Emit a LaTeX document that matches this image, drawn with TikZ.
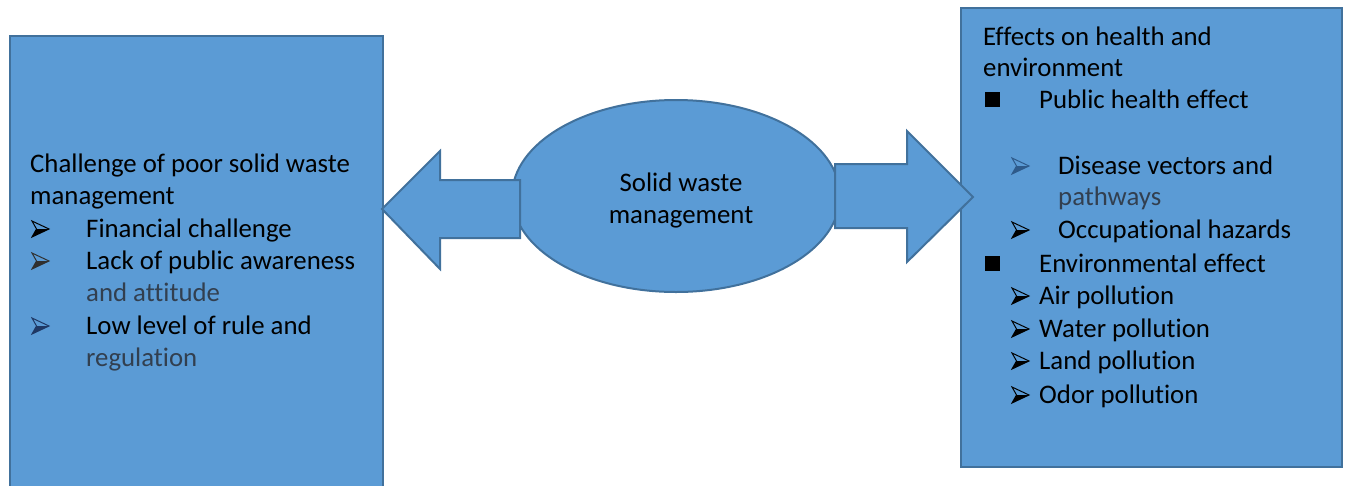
\documentclass[tikz,border=0pt]{standalone}
\usepackage{fontspec}
\setmainfont{Carlito}[Ligatures={NoCommon,NoContextual}]
\usetikzlibrary{shapes.geometric}
\definecolor{boxfill}{HTML}{5B9BD5}
\definecolor{boxline}{HTML}{41719C}
\definecolor{subtext}{HTML}{323F4F}
\definecolor{navyb}{HTML}{1F3864}
\definecolor{steelb}{HTML}{2E5A8A}
\definecolor{grayb}{HTML}{303030}
\newcommand\arrbul[3]{% x, baseline y, colour
  \fill[#3] (#1+4.5,#2-8) -- (#1+17,#2-8) -- (#1,#2) -- cycle;
  \draw[#3, line width=1pt, line join=miter] (#1,#2-16) -- (#1+17,#2-8) -- (#1,#2) -- (#1+4.5,#2-8) -- cycle;}
\begin{document}
\begin{tikzpicture}[x=1pt,y=-1pt,
  panel/.style={draw=boxline, fill=boxfill, line width=2pt, inner sep=0pt, outer sep=0pt},
  txt/.style={anchor=base west, inner sep=0pt, font=\fontsize{26.8}{32}\selectfont},
  sq/.style={fill=black, minimum size=15pt, inner sep=0pt, anchor=south west}]
\clip (0,0) rectangle (1348,485);
% boxes
\node[panel, rectangle, minimum width=373pt, minimum height=470pt, anchor=north west] (lbox) at (10,36) {};
\node[panel, rectangle, minimum width=381pt, minimum height=459pt, anchor=north west] (rbox) at (961,8) {};
% ellipse
\node[panel, ellipse, minimum width=328pt, minimum height=192pt] (ell) at (676,196) {};
% block arrows
\coordinate (ltip) at (382,209);
\coordinate (rtip) at (973,197);
\draw[panel, line join=miter] (ltip) -- (440,151) -- (440,180) -- (520,180) -- (520,238) -- (440,238) -- (440,269) -- cycle;
\draw[panel, line join=miter] (rtip) -- (907,262) -- (907,228) -- (835,228) -- (835,164) -- (907,164) -- (907,131) -- cycle;
% centre text
\node[txt, anchor=base] (c1) at (681,191) {Solid waste};
\node[txt, anchor=base] (c2) at (681,223) {management};
% left text
\node[txt] (l1) at (30,172) {Challenge of poor solid waste};
\node[txt] (l2) at (30,204) {management};
\arrbul{32}{237}{black}
\node[txt] (l3) at (86,237) {Financial challenge};
\arrbul{32}{269}{grayb}
\node[txt] (l4) at (86,269) {Lack of public awareness};
\node[txt, text=subtext] (l5) at (86,301) {and attitude};
\arrbul{32}{334}{navyb}
\node[txt] (l6) at (86,334) {Low level of rule and};
\node[txt, text=subtext] (l7) at (86,366) {regulation};
% right text
\node[txt] (r1) at (983,45) {Effects on health and};
\node[txt] (r2) at (983,76) {environment};
\node[sq] (rs1) at (985,107) {};
\node[txt] (r3) at (1039,108) {Public health effect};
\arrbul{1012}{174}{steelb}
\node[txt] (r4) at (1058,174) {Disease vectors and};
\node[txt, text=subtext] (r5) at (1058,205) {pathways};
\arrbul{1012}{238}{black}
\node[txt] (r6) at (1058,238) {Occupational hazards};
\node[sq] (rs2) at (985,271) {};
\node[txt] (r7) at (1039,272) {Environmental effect};
\arrbul{1012}{304}{black}
\node[txt] (r8) at (1039,304) {Air pollution};
\arrbul{1012}{337}{black}
\node[txt] (r9) at (1039,337) {Water pollution};
\arrbul{1012}{369}{black}
\node[txt] (r10) at (1039,369) {Land pollution};
\arrbul{1012}{403}{black}
\node[txt] (r11) at (1039,403) {Odor pollution};
\end{tikzpicture}
\end{document}
